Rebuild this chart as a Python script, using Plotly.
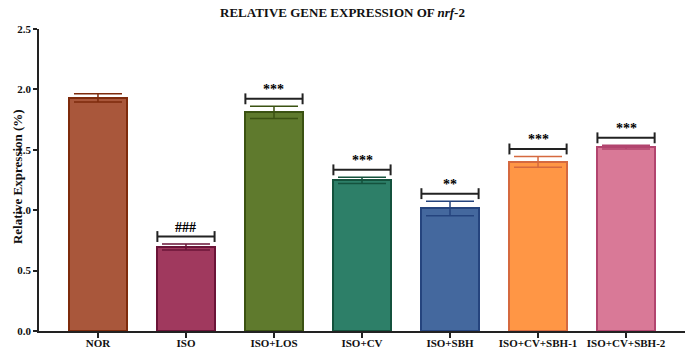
import plotly.graph_objects as go

categories = ["NOR", "ISO", "ISO+LOS", "ISO+CV", "ISO+SBH", "ISO+CV+SBH-1", "ISO+CV+SBH-2"]
values = [1.93, 0.695, 1.81, 1.247, 1.015, 1.40, 1.522]
errors = [0.035, 0.025, 0.05, 0.025, 0.06, 0.045, 0.015]
significance = ["", "###", "***", "***", "**", "***", "***"]
y_ticks = [0.0, 0.5, 1.0, 1.5, 2.0, 2.5]

fills = ["#A9573B", "#A0395E", "#5F7A2D", "#2D7F68", "#44689E", "#FF9645", "#D97997"]
borders = ["#7E2B0C", "#6B1438", "#3B5212", "#14523D", "#25447E", "#D5693F", "#B2456F"]

fig = go.Figure()
xs = list(range(len(categories)))
bw = 0.65
for i in xs:
    fig.add_trace(go.Bar(
        x=[i], y=[values[i]], width=bw,
        marker=dict(color=fills[i], line=dict(color=borders[i], width=2)),
        error_y=dict(type="data", array=[errors[i]], visible=True,
                     color=borders[i], thickness=1.5, width=24),
        showlegend=False,
    ))

offset = 0.062
tick_h = 0.045
for i in xs:
    if not significance[i]:
        continue
    yb = values[i] + errors[i] + offset
    x0, x1 = i - bw / 2, i + bw / 2
    line = dict(color="#222222", width=2)
    fig.add_shape(type="line", x0=x0, x1=x1, y0=yb, y1=yb, xref="x", yref="y", line=line)
    fig.add_shape(type="line", x0=x0, x1=x0, y0=yb - tick_h, y1=yb + tick_h, xref="x", yref="y", line=line)
    fig.add_shape(type="line", x0=x1, x1=x1, y0=yb - tick_h, y1=yb + tick_h, xref="x", yref="y", line=line)
    fig.add_annotation(x=i, y=yb, xref="x", yref="y", text="<b>" + significance[i] + "</b>",
                       showarrow=False, yanchor="bottom", yshift=0,
                       font=dict(family="Liberation Serif", size=14, color="#000000"))

fig.add_annotation(x=-0.047, y=0.51, xref="paper", yref="paper", text="<b>Relative Expression (%)</b>",
                   textangle=-90, showarrow=False,
                   font=dict(family="Liberation Serif", size=13, color="#111111"))

fig.update_layout(
    width=685, height=350,
    margin=dict(l=39, r=0, t=29, b=19),
    paper_bgcolor="white", plot_bgcolor="white",
    bargap=0,
    title=dict(text="<b>RELATIVE GENE EXPRESSION OF <i>nrf</i>-2</b>", x=0.5, xanchor="center",
               y=0.965, yanchor="middle",
               font=dict(family="Liberation Serif", size=13, color="#111111")),
    font=dict(family="Liberation Serif", color="#111111"),
)
fig.update_xaxes(
    range=[-0.67, 6.67], tickmode="array", tickvals=xs,
    ticktext=["<b>" + c + "</b>" for c in categories],
    showline=True, linecolor="#222222", linewidth=1.5,
    ticks="outside", ticklen=5, tickcolor="#222222", tickwidth=1.5,
    tickfont=dict(family="Liberation Serif", size=11, color="#111111"),
    ticklabelstandoff=-4,
    showgrid=False, zeroline=False, automargin=False,
)
fig.update_yaxes(
    range=[0, 2.5], tickmode="array", tickvals=y_ticks,
    ticktext=["<b>%.1f</b>" % v for v in y_ticks],
    showline=True, linecolor="#222222", linewidth=1.5,
    ticks="outside", ticklen=4, tickcolor="#222222", tickwidth=1.5,
    tickfont=dict(family="Liberation Serif", size=11, color="#111111"),
    showgrid=False, zeroline=False, automargin=False,
)

fig.write_html("out.html", config={"displayModeBar": False},
               post_script="document.body.style.margin='0';document.body.style.overflow='hidden';")
